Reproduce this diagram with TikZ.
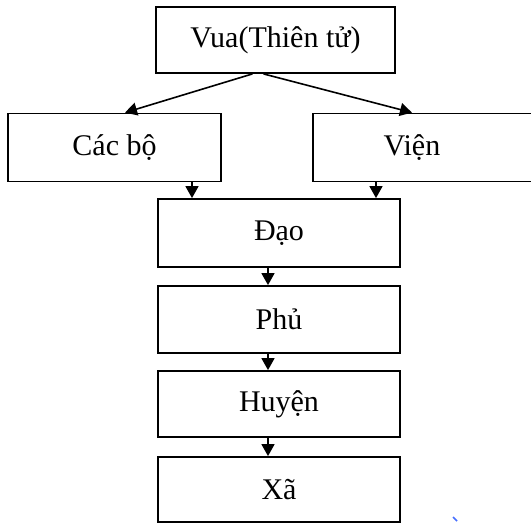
\documentclass[tikz,border=0pt]{standalone}
\usepackage{fontspec}
\setmainfont{Liberation Serif}
\usetikzlibrary{arrows.meta}
\tikzset{
  box/.style={draw=black, line width=1.8pt, rectangle, inner sep=0pt, align=center,
    font=\fontsize{30}{36}\selectfont},
  arr/.style={line width=1.6pt, -{Triangle[length=12pt,width=13pt]}}
}
\begin{document}
\begin{tikzpicture}[x=1pt,y=-1pt]
\useasboundingbox (0,0) rectangle (531,523);
\node[box, minimum width=239pt, minimum height=66pt] (vua) at (275.5,40) {Vua(Thiên tử)};
\node[box, minimum width=213pt, minimum height=68pt] (cacbo) at (114.5,147.5) {Các bộ};
\node[box, minimum width=227pt, minimum height=68pt] (vien) at (426.5,147.5) {};
\node[font=\fontsize{30}{36}\selectfont] (vientext) at (412,147.5) {Viện};
\node[box, minimum width=242pt, minimum height=68pt] (dao) at (279,233) {Đạo};
\node[box, minimum width=242pt, minimum height=67pt] (phu) at (279,319.5) {Phủ};
\node[box, minimum width=242pt, minimum height=66pt] (huyen) at (279,404) {Huyện};
\node[box, minimum width=242pt, minimum height=65pt] (xa) at (279,489.5) {Xã};
\draw[arr] ([xshift=-23pt]vua.south) -- ([xshift=10.5pt]cacbo.north);
\draw[arr] ([xshift=-12pt]vua.south) -- ([xshift=-14.5pt]vien.north);
\draw[arr] ([xshift=77.5pt]cacbo.south) -- ([xshift=-87pt]dao.north);
\draw[arr] ([xshift=-50.5pt]vien.south) -- ([xshift=97pt]dao.north);
\draw[arr] ([xshift=-11pt]dao.south) -- ([xshift=-11pt]phu.north);
\draw[arr] ([xshift=-11pt]phu.south) -- ([xshift=-11pt]huyen.north);
\draw[arr] ([xshift=-11pt]huyen.south) -- ([xshift=-11pt]xa.north);
\coordinate (m1) at (453,517);
\coordinate (m2) at (457,521);
\draw[color={rgb,255:red,70;green,110;blue,255}, line width=1.5pt] (m1) -- (m2);
\end{tikzpicture}
\end{document}
